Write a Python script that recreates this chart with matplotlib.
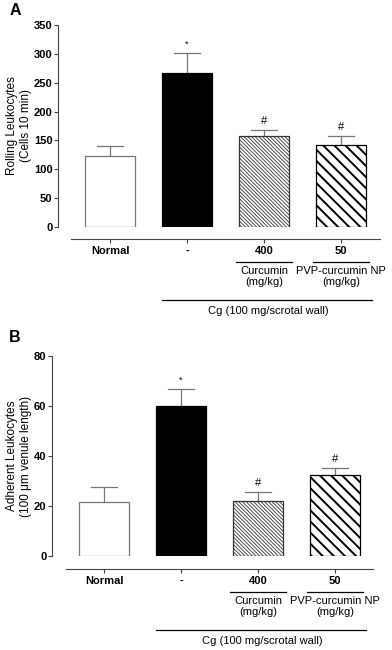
import matplotlib.pyplot as plt
from matplotlib.transforms import blended_transform_factory

plt.rcParams['font.family'] = ['Liberation Sans', 'DejaVu Sans']

# data
groups = ["Normal", "-", "400", "50"]
rolling = [123, 267, 157, 142]
rolling_err = [18, 34, 11, 15]
adherent = [21.5, 60, 22, 32.4]
adherent_err = [6.2, 7, 3.5, 2.8]
marks = ["", "*", "#", "#"]

W, H = 392, 650
fig = plt.figure(figsize=(W / 100, H / 100), dpi=100)


def make_axes(left, right, top, bottom):
    return fig.add_axes([left / W, 1 - bottom / H, (right - left) / W, (bottom - top) / H])


def draw_panel(ax, vals, errs, ymax, ystep, ylabel, x0, spine_left, gap, fy):
    # x0 = pixel centre of first bar, 77 px spacing
    sp = 77.0
    l, r = ax.get_position().x0 * W, ax.get_position().x1 * W
    ax.set_xlim((l - x0) / sp, (r - x0) / sp)
    ax.set_ylim(0, ymax)
    x = list(range(len(vals)))
    styles = [
        dict(color="white", edgecolor="#777777"),
        dict(color="black", edgecolor="black"),
        dict(color="white", edgecolor="#333333", hatch="\\" * 9),
        dict(color="white", edgecolor="black", hatch="\\" * 3),
    ]
    hlw = [0.5, 0.5, 0.6, 1.4]
    for i in x:
        b = ax.bar(i, vals[i], width=0.66, linewidth=0.9, zorder=2, **styles[i])
        if hasattr(b[0], "set_hatch_linewidth"):
            b[0].set_hatch_linewidth(hlw[i])
        top = vals[i] + errs[i]
        ax.plot([i, i], [vals[i], top], color="#777777", lw=0.9, zorder=1)
        ax.plot([i - 0.17, i + 0.17], [top, top], color="#777777", lw=0.9, zorder=1)
        if marks[i]:
            fs = 6.5 if marks[i] == "*" else 8
            ax.annotate(marks[i], (i, top), xytext=(0, 3), textcoords="offset points",
                        ha="center", va="bottom", fontsize=fs)
    ax.spines["top"].set_visible(False)
    ax.spines["right"].set_visible(False)
    ax.spines["left"].set_color("#444444")
    ax.spines["bottom"].set_color("#444444")
    ax.spines["bottom"].set_position(("outward", gap))
    ax.spines["bottom"].set_bounds((spine_left - x0) / sp, (r - x0) / sp)
    ax.set_yticks(range(0, ymax + 1, ystep))
    ax.tick_params(axis="y", labelsize=8, length=3, width=0.8, color="#444444", pad=1)
    for t in ax.get_yticklabels():
        t.set_fontweight("bold")
    ax.set_xticks(x)
    ax.set_xticklabels(groups, fontsize=8, fontweight="bold")
    ax.tick_params(axis="x", length=3, width=0.8, color="#444444", pad=2)
    ax.set_ylabel(ylabel, fontsize=8.5, linespacing=1.2)

    # group labels under the axis
    tr = blended_transform_factory(ax.transData, fig.transFigure)
    ly, ty1, cy, cty = fy
    for i, lab in [(2, "Curcumin\n(mg/kg)"), (3, "PVP-curcumin NP\n(mg/kg)")]:
        ax.plot([i - 0.37, i + 0.37], [1 - ly / H] * 2, color="black", lw=0.9,
                transform=tr, clip_on=False)
        ax.text(i, 1 - ty1 / H, lab, transform=tr, ha="center", va="top",
                fontsize=8, linespacing=1.15)
    ax.plot([1 - 0.33, 3 + 0.4], [1 - cy / H] * 2, color="black", lw=0.9,
            transform=tr, clip_on=False)
    ax.text(2.05, 1 - cty / H, "Cg (100 mg/scrotal wall)", transform=tr,
            ha="center", va="top", fontsize=8)


axA = make_axes(58, 380, 25, 227)
draw_panel(axA, rolling, rolling_err, 350, 50, "Rolling Leukocytes\n(Cells 10 min)",
           110, 71, 8.6, (262, 266, 300, 306))
axA.yaxis.set_label_coords(-0.08, 0.5)
fig.text(10 / W, 1 - 3 / H, "A", fontsize=11.5, fontweight="bold", va="top")

axB = make_axes(52, 373, 356, 556)
draw_panel(axB, adherent, adherent_err, 80, 20, "Adherent Leukocytes\n(100 \u03bcm venule length)",
           104, 66, 9.2, (592, 596, 630, 636))
axB.yaxis.set_label_coords(-0.062, 0.5)
fig.text(9 / W, 1 - 330 / H, "B", fontsize=11.5, fontweight="bold", va="top")

fig.savefig("out.png", dpi=100)
